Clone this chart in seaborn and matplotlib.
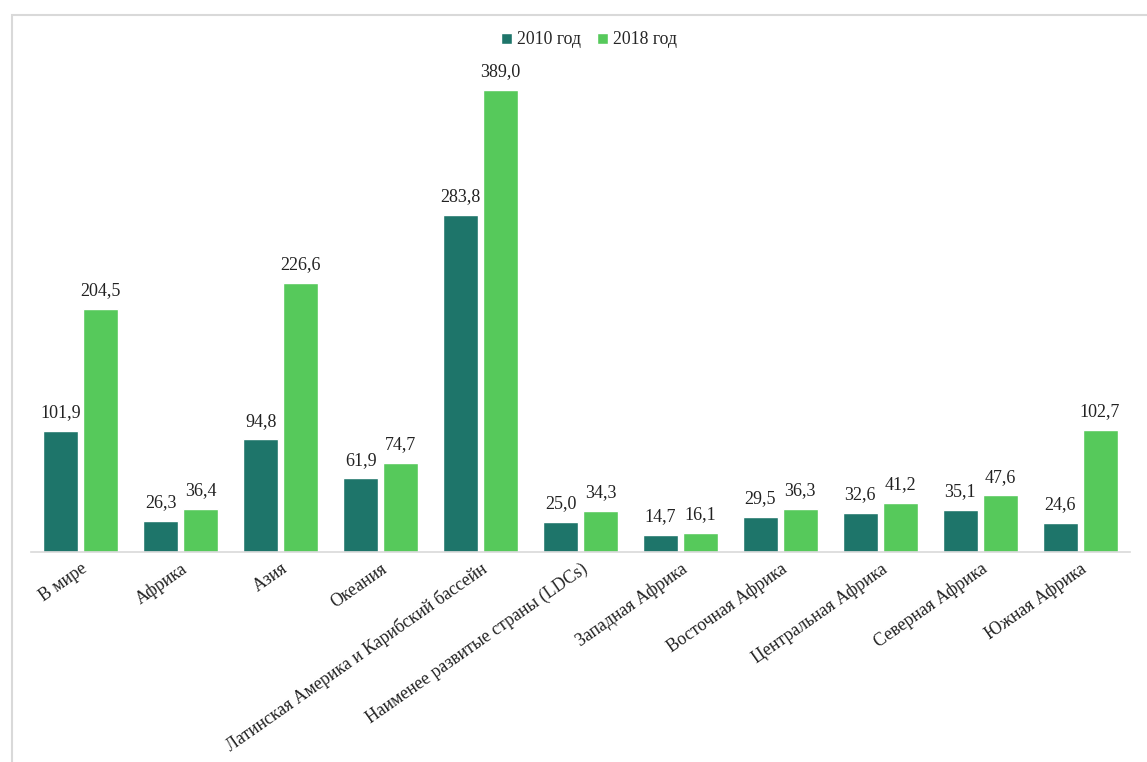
import matplotlib
matplotlib.use("Agg")
import matplotlib.pyplot as plt
import seaborn as sns
import pandas as pd
from matplotlib.patches import Rectangle

categories = ["В мире", "Африка", "Азия", "Океания",
              "Латинская Америка и Карибский бассейн",
              "Наименее развитые страны (LDCs)", "Западная Африка",
              "Восточная Африка", "Центральная Африка", "Северная Африка",
              "Южная Африка"]
values_2010 = [101.9, 26.3, 94.8, 61.9, 283.8, 25.0, 14.7, 29.5, 32.6, 35.1, 24.6]
values_2018 = [204.5, 36.4, 226.6, 74.7, 389.0, 34.3, 16.1, 36.3, 41.2, 47.6, 102.7]
series_names = ["2010 год", "2018 год"]
colors = ["#1E756A", "#56C95B"]

df = pd.DataFrame({
    "cat": categories * 2,
    "val": values_2010 + values_2018,
    "series": [series_names[0]] * len(categories) + [series_names[1]] * len(categories),
})

sns.set_theme(style="white")
plt.rcParams["font.family"] = ["Liberation Serif", "DejaVu Serif"]

W, H = 1147, 762
fig = plt.figure(figsize=(W / 100, H / 100), dpi=100)
ax = fig.add_axes([31 / W, (H - 552) / H, (1130 - 31) / W, (552 - 60) / H])

sns.barplot(data=df, x="cat", y="val", hue="series", palette=colors,
            width=0.8, gap=0.125, ax=ax, saturation=1, legend=True)

ax.set_ylim(0, 414)
ax.set_xlim(-0.5, len(categories) - 0.5)
for s in ["top", "right", "left"]:
    ax.spines[s].set_visible(False)
ax.spines["bottom"].set_color("#D9D9D9")
ax.spines["bottom"].set_linewidth(1.2)
ax.set_yticks([])
ax.set_xlabel("")
ax.set_ylabel("")
ax.tick_params(axis="x", length=0, pad=6)
ax.set_xticks(range(len(categories)))
ax.set_xticklabels(categories, rotation=35, ha="right", rotation_mode="anchor",
                   fontsize=12.8, color="#222222")

for cont in ax.containers:
    labels = [f"{b.get_height():.1f}".replace(".", ",") for b in cont]
    ax.bar_label(cont, labels=labels, padding=7, fontsize=13, color="#222222")

leg = ax.legend(loc="center", bbox_to_anchor=(589 / W, (H - 40) / H), bbox_transform=fig.transFigure,
                ncol=2, frameon=False, fontsize=12.8, handlelength=0.6, handleheight=0.6,
                handletextpad=0.3, columnspacing=0.9)

fig.patches.append(Rectangle((12 / W, -0.02), 1.2, (H - 15) / H + 0.02,
                             transform=fig.transFigure, fill=False,
                             edgecolor="#D9D9D9", linewidth=1.5))

fig.savefig("out.png", dpi=100)
